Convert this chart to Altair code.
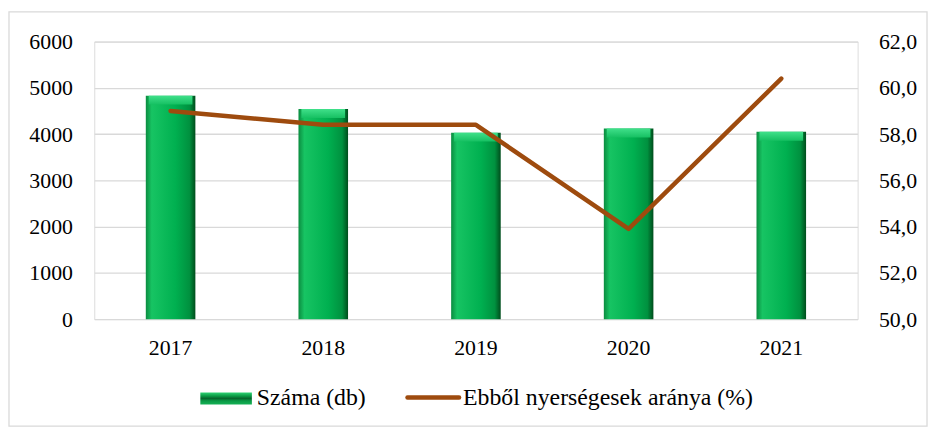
import altair as alt
import pandas as pd

years = ["2017", "2018", "2019", "2020", "2021"]
szama = [4830, 4540, 4030, 4120, 4050]
arany = [59.0, 58.4, 58.4, 53.9, 60.4]

df = pd.DataFrame({"ev": years, "szama": szama, "arany": arany})

FONT = "Liberation Serif"
FS = 22
W, H = 770, 280

base = alt.Chart(df).encode(
    x=alt.X("ev:N", sort=years, title=None,
            scale=alt.Scale(paddingInner=0.0, paddingOuter=0.0),
            axis=alt.Axis(labelAngle=0, labelFont=FONT, labelFontSize=FS, labelColor="#000",
                          labelPadding=19, ticks=False, domain=False, grid=False))
)

grad = alt.Gradient(
    gradient="linear", x1=0, y1=0, x2=1, y2=0,
    stops=[alt.GradientStop(offset=0, color="#0b8c40"),
           alt.GradientStop(offset=0.12, color="#17c463"),
           alt.GradientStop(offset=0.6, color="#00b050"),
           alt.GradientStop(offset=0.88, color="#00913f"),
           alt.GradientStop(offset=1, color="#004d1c")])

cap = alt.Gradient(
    gradient="linear", x1=0, y1=0, x2=0, y2=1,
    stops=[alt.GradientStop(offset=0, color="#40e08a"),
           alt.GradientStop(offset=1, color="#16c062")])

leg_grad = alt.Gradient(
    gradient="linear", x1=0, y1=0, x2=0, y2=1,
    stops=[alt.GradientStop(offset=0, color="#2fd374"),
           alt.GradientStop(offset=0.3, color="#0a9a45"),
           alt.GradientStop(offset=0.5, color="#07652d"),
           alt.GradientStop(offset=0.7, color="#0a9a45"),
           alt.GradientStop(offset=1, color="#15b055")])

yaxis = alt.Axis(values=[0, 1000, 2000, 3000, 4000, 5000, 6000], format="d",
                 labelFont=FONT, labelFontSize=FS, labelColor="#000", labelPadding=22,
                 ticks=False, domain=False, grid=True, gridColor="#d9d9d9", gridWidth=1.3)
yscale = alt.Scale(domain=[0, 6000], nice=False)

bars = base.mark_bar(size=50, color=grad).encode(
    y=alt.Y("szama:Q", title=None, scale=yscale, axis=yaxis)
)
caps = base.mark_bar(size=44, color=cap, y2Offset=9).encode(
    y=alt.Y("szama:Q", title=None, scale=yscale, axis=yaxis),
    y2="szama:Q",
)

line = base.mark_line(color="#9e4b0e", strokeWidth=4.5, strokeCap="round", strokeJoin="round").encode(
    y=alt.Y("arany:Q", title=None, scale=alt.Scale(domain=[50, 62], nice=False),
            axis=alt.Axis(orient="right", values=[50, 52, 54, 56, 58, 60, 62], labelFont=FONT,
                          labelFontSize=FS, labelColor="#000", labelPadding=21, ticks=False,
                          domain=False, grid=False,
                          labelExpr="replace(format(datum.value, '.1f'), '.', ',')"))
)

main = alt.layer(alt.layer(bars, caps), line).resolve_scale(y="independent")

one = pd.DataFrame({"a": [0]})
frame = alt.Chart(one).mark_rect(fill=None, stroke="#d9d9d9", strokeWidth=1.3).encode(
    x=alt.value(-86), x2=alt.value(840), y=alt.value(-30), y2=alt.value(388))
leg_rect = alt.Chart(one).mark_rect(color=leg_grad).encode(
    x=alt.value(107), x2=alt.value(159), y=alt.value(354), y2=alt.value(366))
leg_line = alt.Chart(one).mark_rule(color="#9e4b0e", strokeWidth=4.5, strokeCap="round").encode(
    x=alt.value(316), x2=alt.value(368), y=alt.value(359))
leg_t1 = alt.Chart(one).mark_text(text="Száma (db)", font=FONT, fontSize=24, align="left",
                                  baseline="middle", color="#000").encode(
    x=alt.value(164), y=alt.value(360))
leg_t2 = alt.Chart(one).mark_text(text="Ebből nyerségesek aránya (%)", font=FONT, fontSize=24,
                                  align="left", baseline="middle", color="#000").encode(
    x=alt.value(372), y=alt.value(360))

chart = alt.layer(frame, main, leg_rect, leg_line, leg_t1, leg_t2).properties(
    width=W, height=H,
    autosize=alt.AutoSizeParams(type="none"),
    padding={"left": 87, "top": 32, "right": 72, "bottom": 110},
).configure_view(stroke=None).configure(background="white")

chart.save("out.html", embed_options={"renderer": "svg", "actions": False})
